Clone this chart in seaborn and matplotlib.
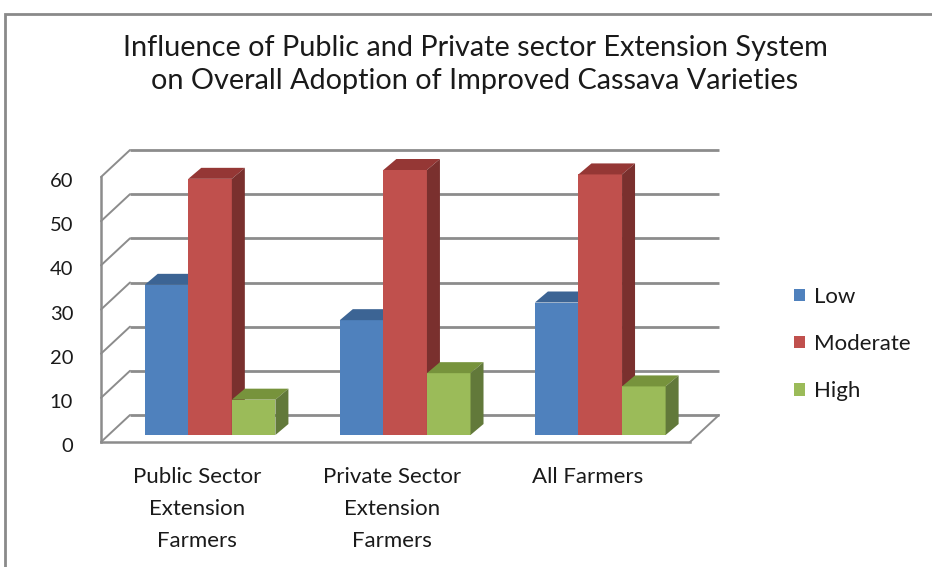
import matplotlib
matplotlib.use("Agg")
import matplotlib.pyplot as plt
import matplotlib.transforms as mtrans
from matplotlib.patches import Polygon, Rectangle, Patch
import seaborn as sns
import pandas as pd

categories = ["Public Sector\nExtension\nFarmers", "Private Sector\nExtension\nFarmers", "All Farmers"]
levels = ["Low", "Moderate", "High"]
low = [34, 26, 30]
moderate = [58, 60, 59]
high = [8, 14, 11]
yticks = [0, 10, 20, 30, 40, 50, 60]
title = "Influence of Public and Private sector Extension System\non Overall Adoption of Improved Cassava Varieties"

front_cols = ["#4F81BD", "#C0504D", "#9BBB59"]
top_cols = ["#3C6494", "#953735", "#77933C"]
side_cols = ["#365A85", "#7A302E", "#62793A"]

rows = []
for lvl, vals in zip(levels, [low, moderate, high]):
    for c, v in zip(categories, vals):
        rows.append({"category": c, "level": lvl, "value": v})
df = pd.DataFrame(rows)

sns.set_theme(style="white")
plt.rcParams["font.family"] = ["Lato", "DejaVu Sans"]

W, H = 932, 567
fig = plt.figure(figsize=(W / 100, H / 100), dpi=100)
# axes = front plane of the pseudo-3D box
ax = fig.add_axes([101 / W, (H - 442) / H, 589 / W, 265 / H])

sns.barplot(data=df, x="category", y="value", hue="level", order=categories,
            hue_order=levels, palette=front_cols, width=0.67, gap=0,
            saturation=1, legend=False, ax=ax, err_kws={"linewidth": 0})
ax.set_xlim(-0.559, 2.46)
ax.set_ylim(0, 60)
ax.set_yticks(yticks)
ax.set_xlabel("")
ax.set_ylabel("")
ax.grid(False)

grey = "#8c8c8c"
for s in ["top", "right"]:
    ax.spines[s].set_visible(False)
for s in ["left", "bottom"]:
    ax.spines[s].set_color(grey)
    ax.spines[s].set_linewidth(1.8)
ax.tick_params(axis="both", length=0, colors="#1a1a1a")
ax.tick_params(axis="y", pad=20, labelsize=14.5)
ax.tick_params(axis="x", pad=18, labelsize=16)

inv = ax.transData.inverted()
def px2data(dx, dy):
    p0 = inv.transform((0, 0))
    p1 = inv.transform((dx, dy))
    return p1[0] - p0[0], p1[1] - p0[1]

bx, by = px2data(29, 27)    # back wall offset
ddx, ddy = px2data(13, 11)  # bar depth
bar_shift = mtrans.ScaledTranslation(0, 7 / 100, fig.dpi_scale_trans)  # bars sit a bit behind front
bar_tr = ax.transData + bar_shift

x0, x1 = ax.get_xlim()
for t in yticks:
    ax.plot([x0 + bx, x1 + bx], [t + by, t + by], color=grey, lw=2.0,
            zorder=0.5, clip_on=False, solid_capstyle="butt")
    ax.plot([x0, x0 + bx], [t, t + by], color=grey, lw=1.4, zorder=0.5, clip_on=False)
ax.plot([x1, x1 + bx], [0, by], color=grey, lw=1.4, zorder=0.5, clip_on=False)

for k, cont in enumerate(ax.containers):
    for p in cont.patches:
        p.set_zorder(3 + k)
        p.set_clip_on(False)
        p.set_linewidth(0)
        p.set_transform(bar_tr)
        x, w, h = p.get_x(), p.get_width(), p.get_height()
        top = Polygon([(x, h), (x + w, h), (x + w + ddx, h + ddy), (x + ddx, h + ddy)],
                      closed=True, facecolor=top_cols[k], edgecolor="none",
                      zorder=3.5 + k, clip_on=False, transform=bar_tr)
        side = Polygon([(x + w, 0), (x + w, h), (x + w + ddx, h + ddy), (x + w + ddx, ddy)],
                       closed=True, facecolor=side_cols[k], edgecolor="none",
                       zorder=3.5 + k, clip_on=False, transform=bar_tr)
        ax.add_patch(top)
        ax.add_patch(side)

off = mtrans.ScaledTranslation(-13 / 100, 0, fig.dpi_scale_trans)
for lbl in ax.get_xticklabels():
    lbl.set_linespacing(1.75)
    lbl.set_va("top")
    lbl.set_transform(lbl.get_transform() + off)

yoff = mtrans.ScaledTranslation(0, -3 / 100, fig.dpi_scale_trans)
for lbl in ax.get_yticklabels():
    lbl.set_transform(lbl.get_transform() + yoff)

handles = [Patch(facecolor=c, edgecolor="none") for c in front_cols]
fig.legend(handles, levels, loc="center left", bbox_to_anchor=(794 / W, 1 - 344 / H),
           frameon=False, fontsize=16, handlelength=0.5, handleheight=0.5,
           handletextpad=0.38, labelspacing=1.22, borderaxespad=0, borderpad=0,
           labelcolor="#1a1a1a")

fig.text(475 / W, 1 - 64.5 / H, title, ha="center", va="center", fontsize=20.8,
         linespacing=1.31, color="#1a1a1a")

fig.add_artist(Rectangle((5 / W, -0.2), 1.2, 1.2 - 14 / H, transform=fig.transFigure,
                         fill=False, edgecolor="#8a8a8a", lw=2, zorder=10))

fig.savefig("out.png", dpi=100)
